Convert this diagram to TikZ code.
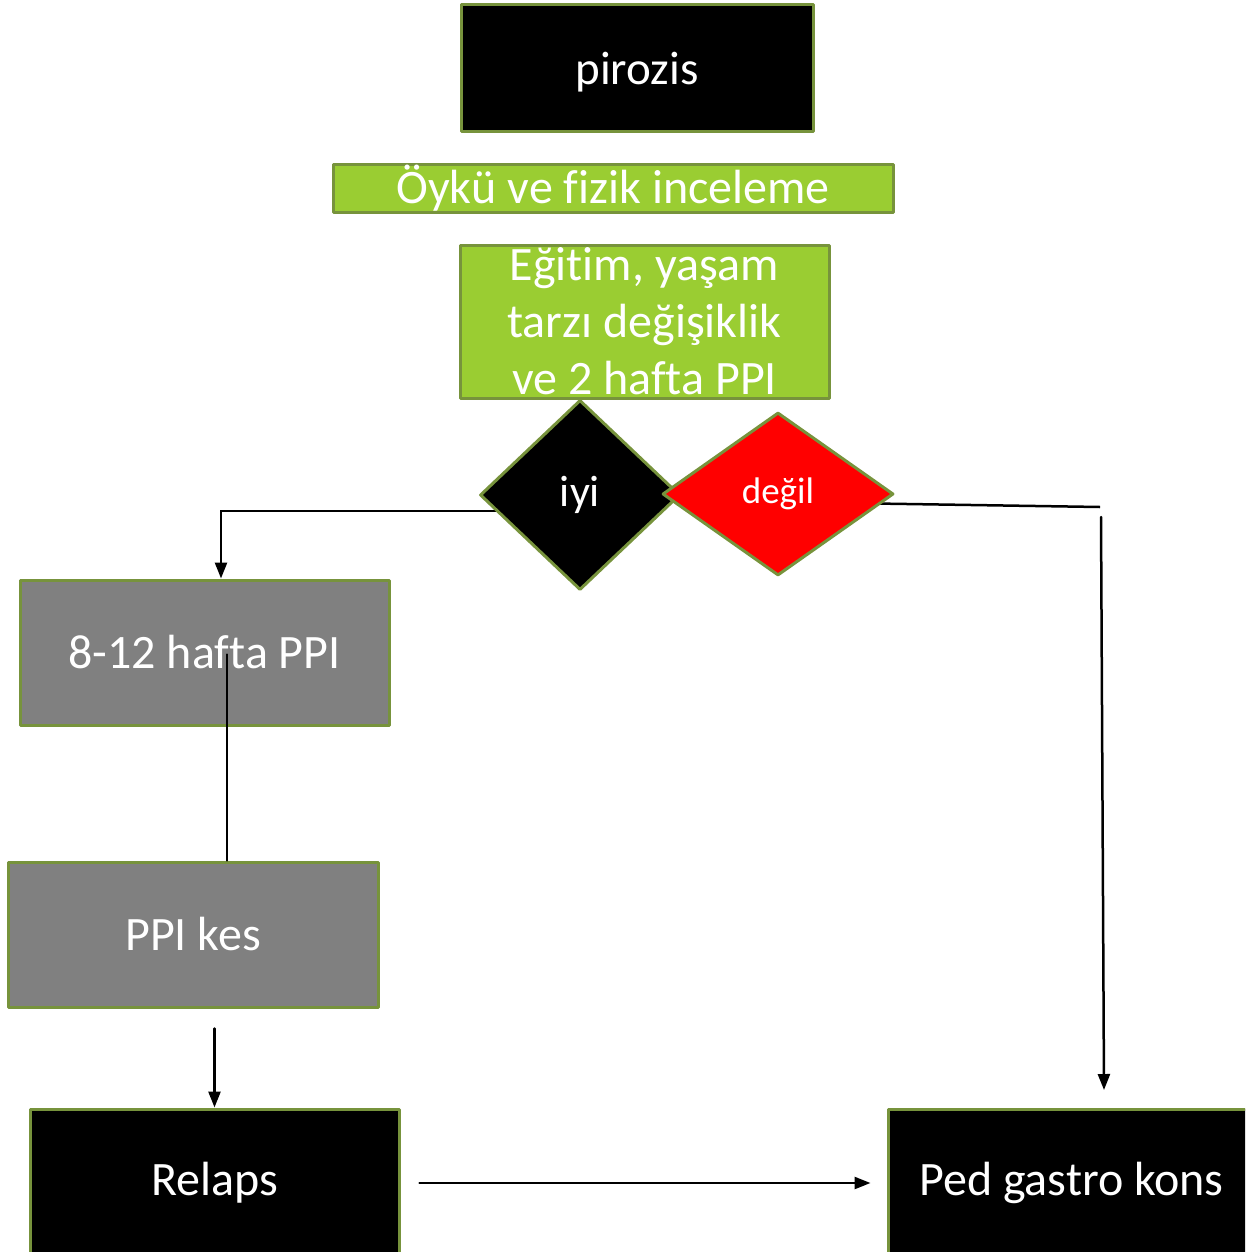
\documentclass[tikz,border=0pt]{standalone}
\usepackage{fontspec}
\setmainfont{Carlito}[Ligatures=CommonOff]
\usetikzlibrary{arrows.meta}
\usetikzlibrary{shapes.geometric}
\usetikzlibrary{backgrounds}
\definecolor{kenar}{RGB}{119,147,60}
\definecolor{acikyesil}{RGB}{154,205,50}
\definecolor{gri}{RGB}{128,128,128}

\begin{document}
\begin{tikzpicture}[line cap=round,line join=round,>={Triangle[length=16pt,width=12pt]},x=1pt,y=-1pt,
kutu/.style={draw=kenar,line width=3pt,inner sep=0pt,text=white,font=\fontsize{48}{57}\selectfont},
siyahkutu/.style={kutu,fill=black},
yesilkutu/.style={kutu,fill=acikyesil},
grikutu/.style={kutu,fill=gri},
karar/.style={kutu,diamond,aspect=1},
ok/.style={line width=2.5pt}]
\useasboundingbox (0,0) rectangle (1245,1252);
\clip (0,0) rectangle (1245,1252);

%ust kutular
\node[siyahkutu,minimum width=352pt,minimum height=127pt,font=\fontsize{47}{57}\selectfont,text depth=1pt] (pirozis) at (637,68.5) {pirozis};
\node[yesilkutu,minimum width=560pt,minimum height=47pt] (oyku) at (613,188.5) {Öykü ve fizik inceleme};
\node[yesilkutu,minimum width=369pt,minimum height=153pt,align=center] (egitim) at (644.5,321.5) {Eğitim, yaşam\\tarzı değişiklik\\ve 2 hafta PPI};

%karar
\node[karar,fill=black,minimum width=200pt,minimum height=190pt,font=\fontsize{44}{50}\selectfont] (iyi) at (580,495) {iyi};
\node[karar,fill=red,minimum width=231pt,minimum height=163pt,font=\fontsize{37}{42}\selectfont] (degil) at (778,494) {değil};

%sol kol
\node[grikutu,minimum width=369pt,minimum height=145pt] (ppi812) at (204.5,652.5) {8-12 hafta PPI};
\node[grikutu,minimum width=370pt,minimum height=145pt] (kes) at (193,934.5) {PPI kes};

%alt kutular
\node[siyahkutu,minimum width=369pt,minimum height=148pt] (relaps) at (214.5,1183) {Relaps};
\node[siyahkutu,minimum width=367pt,minimum height=148pt] (gastro) at (1071.5,1183) {Ped gastro kons};

%oklar
\coordinate (sagkose) at (1100,507);
\coordinate (sagust) at (1101,517);
\coordinate (sagalt) at (1104,1090);
\begin{scope}[on background layer]
\draw[ok,->] ([yshift=-16pt]iyi.center) -| ([xshift=16.5pt]ppi812.north);
\draw[ok] ([yshift=-8pt]degil.center) -- (sagkose);
\end{scope}
\draw[ok,->] (sagust) -- (sagalt);
\draw[ok] ([xshift=22.5pt,yshift=-2pt]ppi812.center) -- ([xshift=34pt]kes.north);
\draw[ok,->] ([yshift=79pt]relaps.north) -- (relaps.north);
\draw[ok,->] ([xshift=19pt]relaps.east) -- ([xshift=-16pt]gastro.west);
\end{tikzpicture}
\end{document}
